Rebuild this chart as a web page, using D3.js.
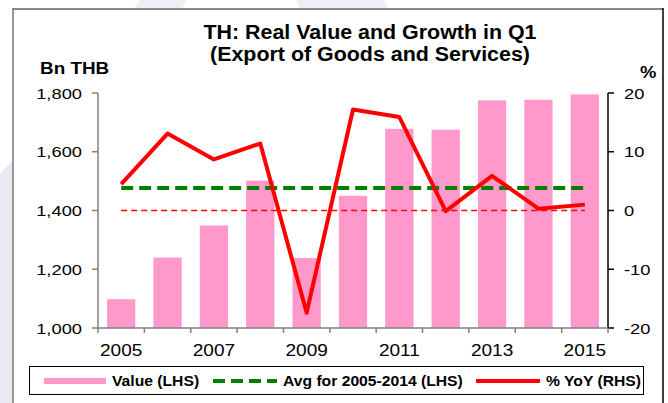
<!DOCTYPE html>
<html>
<head>
<meta charset="utf-8">
<script src="https://cdn.jsdelivr.net/npm/d3@7"></script>
<style>
  body { margin: 0; background: #fff; }
  svg { display: block; font-family: "Liberation Sans", Arial, sans-serif; }
</style>
</head>
<body>
<svg id="chart" width="668" height="403"></svg>
<script>
// data
var years = [2005, 2006, 2007, 2008, 2009, 2010, 2011, 2012, 2013, 2014, 2015];
var values = [1098, 1240, 1349, 1502, 1238, 1450, 1678, 1675, 1775, 1777, 1795];
var yoy = [4.5, 13.1, 8.7, 11.4, -17.4, 17.2, 15.9, -0.1, 5.9, 0.3, 1.0];
var avgValue = 1477;
var leftTicks = [1000, 1200, 1400, 1600, 1800];
var rightTicks = [-20, -10, 0, 10, 20];
var yearLabels = [2005, 2007, 2009, 2011, 2013, 2015];

var plot = { left: 98, right: 608, top: 93, bottom: 328 };

var svg = d3.select('#chart');

// stretch text horizontally (reference text is drawn wider than its height)
function stretch(sel, factor, anchor) {
  sel.each(function () {
    var node = d3.select(this);
    var w = this.getComputedTextLength();
    var target = w * factor;
    var x = +node.attr('x');
    if (anchor === 'middle') x -= target / 2;
    if (anchor === 'end') x -= target;
    node.attr('text-anchor', 'start')
      .attr('x', x)
      .attr('textLength', target)
      .attr('lengthAdjust', 'spacingAndGlyphs');
  });
}

// background watermark bits outside the frame
svg.append('polygon')
  .attr('points', '0,174 13,160 13,403 0,403')
  .attr('fill', '#e9e9f3');
svg.append('polygon')
  .attr('points', '140,0 186,0 182,9 134,9')
  .attr('fill', '#eeeef6');
svg.append('polygon')
  .attr('points', '296,0 384,0 388,9 300,9')
  .attr('fill', '#eeeef6');

// frame
svg.append('rect')
  .attr('x', 13).attr('y', 9)
  .attr('width', 650).attr('height', 400)
  .attr('fill', '#fff');
svg.append('line')
  .attr('x1', 13).attr('x2', 13).attr('y1', 9).attr('y2', 403)
  .attr('stroke', '#777').attr('stroke-width', 1.5);
svg.append('line')
  .attr('x1', 12).attr('x2', 663).attr('y1', 9).attr('y2', 9)
  .attr('stroke', '#888').attr('stroke-width', 2);
svg.append('line')
  .attr('x1', 663).attr('x2', 663).attr('y1', 8).attr('y2', 403)
  .attr('stroke', '#000').attr('stroke-width', 1.5);

// scales
var x = d3.scaleBand()
  .domain(years)
  .range([plot.left, plot.right])
  .paddingInner(0.39)
  .paddingOuter(0.195);
var yL = d3.scaleLinear().domain([1000, 1800]).range([plot.bottom, plot.top]);
var yR = d3.scaleLinear().domain([-20, 20]).range([plot.bottom, plot.top]);
var cx = function (yr) { return x(yr) + x.bandwidth() / 2; };

// bars
svg.append('g').attr('class', 'bars')
  .selectAll('rect')
  .data(years)
  .join('rect')
  .attr('x', function (d) { return x(d); })
  .attr('width', x.bandwidth())
  .attr('y', function (d, i) { return yL(values[i]); })
  .attr('height', function (d, i) { return yL(1000) - yL(values[i]); })
  .attr('fill', '#ff99cc');

// zero line (RHS)
svg.append('line')
  .attr('x1', cx(years[0])).attr('x2', cx(years[years.length - 1]))
  .attr('y1', yR(0)).attr('y2', yR(0))
  .attr('stroke', '#ff0000').attr('stroke-width', 1.5)
  .attr('stroke-dasharray', '6,4');

// average line (LHS)
svg.append('line')
  .attr('x1', cx(years[0])).attr('x2', cx(years[years.length - 1]))
  .attr('y1', yL(avgValue)).attr('y2', yL(avgValue))
  .attr('stroke', '#008000').attr('stroke-width', 4)
  .attr('stroke-dasharray', '12,6');

// yoy line (RHS)
var line = d3.line()
  .x(function (d, i) { return cx(years[i]); })
  .y(function (d) { return yR(d); });
svg.append('path')
  .datum(yoy)
  .attr('d', line)
  .attr('fill', 'none')
  .attr('stroke', '#ff0000')
  .attr('stroke-width', 4)
  .attr('stroke-linejoin', 'round');

// left axis
var axisL = svg.append('g').attr('class', 'axis-left');
axisL.append('line')
  .attr('x1', plot.left).attr('x2', plot.left)
  .attr('y1', plot.top).attr('y2', plot.bottom)
  .attr('stroke', '#808080').attr('stroke-width', 1.5);
axisL.selectAll('line.tick')
  .data(leftTicks)
  .join('line')
  .attr('class', 'tick')
  .attr('x1', plot.left - 6).attr('x2', plot.left)
  .attr('y1', function (d) { return yL(d); })
  .attr('y2', function (d) { return yL(d); })
  .attr('stroke', '#808080').attr('stroke-width', 1.5);
axisL.selectAll('text')
  .data(leftTicks)
  .join('text')
  .attr('x', 82)
  .attr('y', function (d) { return yL(d) + 5.5; })
  .attr('font-size', 15)
  .text(d3.format(','))
  .call(stretch, 1.22, 'end');

// right axis
var axisR = svg.append('g').attr('class', 'axis-right');
axisR.append('line')
  .attr('x1', plot.right).attr('x2', plot.right)
  .attr('y1', plot.top).attr('y2', plot.bottom)
  .attr('stroke', '#000').attr('stroke-width', 1.5);
axisR.selectAll('line.tick')
  .data(rightTicks)
  .join('line')
  .attr('class', 'tick')
  .attr('x1', plot.right).attr('x2', plot.right + 6)
  .attr('y1', function (d) { return yR(d); })
  .attr('y2', function (d) { return yR(d); })
  .attr('stroke', '#000').attr('stroke-width', 1.5);
axisR.selectAll('text')
  .data(rightTicks)
  .join('text')
  .attr('x', 624)
  .attr('y', function (d) { return yR(d) + 5.5; })
  .attr('font-size', 15)
  .text(function (d) { return d; })
  .call(stretch, 1.22, 'start');

// bottom axis, ticks on category edges
var axisB = svg.append('g').attr('class', 'axis-bottom');
axisB.append('line')
  .attr('x1', plot.left).attr('x2', plot.right)
  .attr('y1', plot.bottom).attr('y2', plot.bottom)
  .attr('stroke', '#808080').attr('stroke-width', 1.5);
axisB.selectAll('line.tick')
  .data(years.concat([null]))
  .join('line')
  .attr('class', 'tick')
  .attr('x1', function (d, i) { return plot.left + i * x.step(); })
  .attr('x2', function (d, i) { return plot.left + i * x.step(); })
  .attr('y1', plot.bottom).attr('y2', plot.bottom + 5)
  .attr('stroke', '#808080').attr('stroke-width', 1.5);
axisB.selectAll('text')
  .data(yearLabels)
  .join('text')
  .attr('x', function (d) { return cx(d); })
  .attr('y', 356)
  .attr('font-size', 16)
  .text(function (d) { return d; })
  .call(stretch, 1.19, 'middle');

// titles
svg.append('text')
  .attr('x', 370).attr('y', 39)
  .attr('font-size', 20).attr('font-weight', 'bold')
  .text('TH: Real Value and Growth in Q1')
  .call(stretch, 1.07, 'middle');
svg.append('text')
  .attr('x', 370).attr('y', 61)
  .attr('font-size', 20).attr('font-weight', 'bold')
  .text('(Export of Goods and Services)')
  .call(stretch, 1.07, 'middle');
svg.append('text')
  .attr('x', 40).attr('y', 74)
  .attr('font-size', 16).attr('font-weight', 'bold')
  .text('Bn THB')
  .call(stretch, 1.18, 'start');
svg.append('text')
  .attr('x', 640).attr('y', 78)
  .attr('font-size', 16).attr('font-weight', 'bold')
  .text('%')
  .call(stretch, 1.15, 'start');

// legend
var legend = svg.append('g').attr('class', 'legend');
legend.append('rect')
  .attr('x', 29.5).attr('y', 366.5)
  .attr('width', 614).attr('height', 28)
  .attr('fill', '#fff').attr('stroke', '#000').attr('stroke-width', 1);
var ly = 381;
legend.append('line')
  .attr('x1', 44).attr('x2', 106).attr('y1', ly).attr('y2', ly)
  .attr('stroke', '#ff99cc').attr('stroke-width', 6);
legend.append('line')
  .attr('x1', 213).attr('x2', 277).attr('y1', ly).attr('y2', ly)
  .attr('stroke', '#008000').attr('stroke-width', 4)
  .attr('stroke-dasharray', '12,6');
legend.append('line')
  .attr('x1', 476).attr('x2', 540).attr('y1', ly).attr('y2', ly)
  .attr('stroke', '#ff0000').attr('stroke-width', 4);
var legendItems = [
  { label: 'Value (LHS)', x: 112 },
  { label: 'Avg for 2005-2014 (LHS)', x: 283 },
  { label: '% YoY (RHS)', x: 546 }
];
legend.selectAll('text')
  .data(legendItems)
  .join('text')
  .attr('x', function (d) { return d.x; })
  .attr('y', ly + 5)
  .attr('font-size', 14).attr('font-weight', 'bold')
  .text(function (d) { return d.label; })
  .call(stretch, 1.12, 'start');
</script>
</body>
</html>
